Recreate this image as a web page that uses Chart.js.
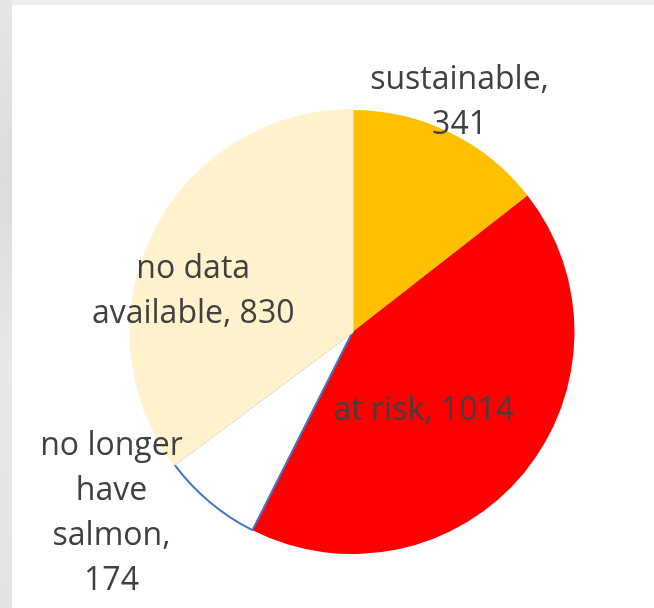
<!DOCTYPE html>
<html>
<head>
<meta charset="UTF-8">
<script src="https://cdn.jsdelivr.net/npm/chart.js@4/dist/chart.umd.min.js"></script>
<title>salmon pie</title>
<style>
html,body{margin:0;padding:0;width:654px;height:608px;overflow:hidden;background:#eeeeee}
.sheet{position:absolute;left:12px;top:5px;right:0;bottom:0;background:#ffffff}
.edge{position:absolute;left:0;top:0;width:12px;height:608px;background:linear-gradient(to bottom,#e6e6e6,#dcdcdc 30%,#e8e8e8 60%,#e4e4e4)}
.box{position:absolute;left:0;top:0;width:654px;height:608px}
</style>
</head>
<body>
<div class="edge"></div>
<div class="sheet"></div>
<div class="box"><canvas id="myChart" width="654" height="608"></canvas></div>
<script>
// data
var categories = ["sustainable", "at risk", "no longer have salmon", "no data available"];
var counts = [341, 1014, 174, 830];
// how each label is broken into lines ({v} = value)
var labelFormat = ["sustainable,\n{v}", "at risk, {v}", "no longer\nhave\nsalmon,\n{v}", "no data\navailable, {v}"];

var fillColors = ["#FFC000", "#FF0000", "#FFFFFF", "#FFF2CC"];
var lineColors = ["#FFC000", "#FF0000", "#4472C4", "#FFF2CC"];
var lineWidths = [0, 0, 2, 2];
// label placement: angle shift from slice middle (deg), distance as share of radius
var labelPlace = [[-1, 1.14], [8.6, 0.48], [12.9, 1.36], [-12.5, 0.74]];

var pieLabels = {
	id: "pieLabels",
	afterDatasetsDraw: function(chart){
		var ctx = chart.ctx;
		var arcs = chart.getDatasetMeta(0).data;
		ctx.save();
		ctx.font = "32px 'Open Sans'";
		ctx.fillStyle = "#404040";
		ctx.textAlign = "center";
		ctx.textBaseline = "middle";
		for(var i=0;i<arcs.length;i++){
			var p = arcs[i].getProps(["x","y","startAngle","endAngle","outerRadius"], true);
			var a = (p.startAngle + p.endAngle)/2 + labelPlace[i][0]*Math.PI/180;
			var r = p.outerRadius*labelPlace[i][1];
			var cx = p.x + Math.cos(a)*r;
			var cy = p.y + Math.sin(a)*r;
			var lines = labelFormat[i].replace("{v}", counts[i]).split("\n");
			var lh = 45;
			var y0 = cy - (lines.length-1)*lh/2;
			for(var j=0;j<lines.length;j++){
				ctx.fillText(lines[j], cx, y0 + j*lh);
			}
		}
		ctx.restore();
	}
};

var ctx = document.getElementById("myChart").getContext("2d");
var myChart = new Chart(ctx, {
	type: "pie",
	data: {
		labels: categories,
		datasets: [{
			data: counts,
			backgroundColor: fillColors,
			borderColor: lineColors,
			borderWidth: lineWidths
		}]
	},
	options: {
		responsive: false,
		animation: false,
		layout: {padding: {left: 129, right: 78, top: 109, bottom: 53}},
		plugins: {legend: {display: false}, tooltip: {enabled: false}}
	},
	plugins: [pieLabels]
});
</script>
</body>
</html>
